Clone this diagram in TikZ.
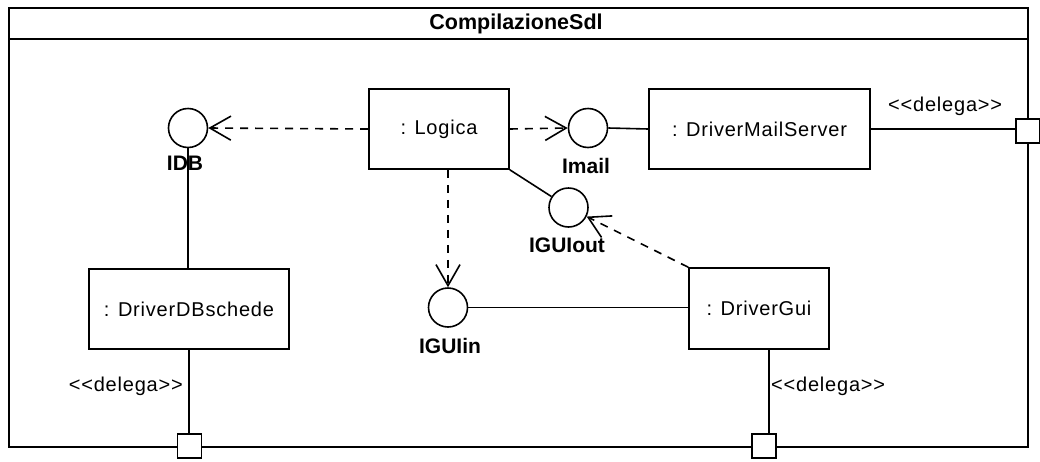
\documentclass[tikz,border=0pt]{standalone}
\usepackage{fontspec}
\setmainfont{Liberation Sans}
\newfontfamily\spacedfont[LetterSpace=4]{Liberation Sans}
\usetikzlibrary{arrows.meta,calc}
\begin{document}
\begin{tikzpicture}[x=1pt,y=-1pt,
  comp/.style={draw, line width=1.6pt, minimum height=80pt, inner sep=0pt, font=\spacedfont\fontsize{20}{24}\selectfont},
  iface/.style={draw, circle, line width=1.6pt, minimum size=39pt, inner sep=0pt},
  ilabel/.style={font=\bfseries\fontsize{21}{25}\selectfont, inner sep=0pt},
  port/.style={draw, fill=white, line width=1.6pt, minimum size=24pt, inner sep=0pt},
  stereo/.style={font=\spacedfont\fontsize{20}{24}\selectfont, inner sep=0pt},
  conn/.style={line width=1.6pt},
  dep/.style={line width=1.6pt, dash pattern=on 8pt off 7pt, -{Straight Barb[length=21pt,width=24pt]}}]
\useasboundingbox (0,0) rectangle (1040,461);
% frame
\draw[conn] (9,8) rectangle (1028,447);
\draw[conn] (9,39) -- (1028,39);
\node[font=\bfseries\fontsize{21.5}{26}\selectfont, inner sep=0pt] (title) at (516,24) {CompilazioneSdl};
% components
\node[comp, minimum width=140pt] (logica) at (439,129) {: Logica};
\node[comp, minimum width=221pt] (dms) at (759.5,129) {: DriverMailServer};
\node[comp, minimum width=200pt] (dbs) at (189,309) {: DriverDBschede};
\node[comp, minimum width=140pt, minimum height=81pt] (gui) at (759,308.5) {: DriverGui};
% interfaces
\node[iface] (idb) at (188,128) {};
\node[ilabel] (idbl) at (185,163) {IDB};
\node[iface] (imail) at (588,128) {};
\node[ilabel] (imaill) at (586,166) {Imail};
\node[iface] (iguiout) at (568.5,207.5) {};
\node[ilabel] (iguioutl) at (567,245) {IGUIout};
\node[iface] (iguiin) at (448,307.5) {};
\node[ilabel] (iguiinl) at (450,346) {IGUIin};
% ports
\node[port] (portR) at (1028,131) {};
\node[port] (portBL) at (189.5,446) {};
\node[port] (portBR) at (764,446) {};
% stereotype labels
\node[stereo, anchor=west] (delR) at (888,106) {<<delega>>};
\node[stereo, anchor=east] (delBL) at (183,386) {<<delega>>};
\node[stereo, anchor=west] (delBR) at (771,386) {<<delega>>};
% connectors
\draw[dep] (logica.west) -- (idb.east);
\draw[dep] (logica.east) -- (imail.west);
\draw[conn] (imail.east) -- (dms.west);
\draw[conn] (dms.east) -- (dms.east -| portR.west);
\draw[conn] (logica.south east) -- (iguiout);
\draw[dep] (iguiin |- logica.south) -- (iguiin.north);
\draw[dep] (gui.north west) -- (iguiout);
\draw[conn] (iguiin.east) -- (iguiin.east -| gui.west);
\draw[conn] (idb.south) -- (idb.south |- dbs.north);
\draw[conn] (dbs.south) -- (portBL.north -| dbs.south);
\draw[conn] ([xshift=10pt]gui.south) -- ([xshift=5pt]portBR.north);
\end{tikzpicture}
\end{document}
